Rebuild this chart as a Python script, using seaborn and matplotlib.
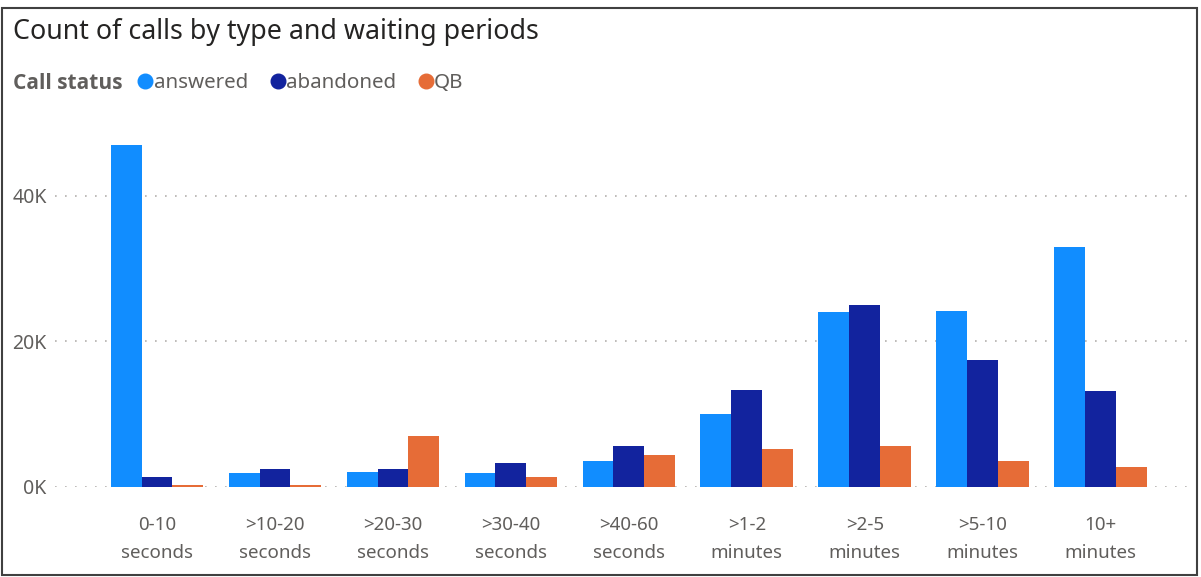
import pandas as pd
import matplotlib.pyplot as plt
import seaborn as sns
from matplotlib.lines import Line2D
from matplotlib.patches import Rectangle
from matplotlib.ticker import FuncFormatter

# 데이터 (단위: 건)
periods = ['0-10\nseconds', '>10-20\nseconds', '>20-30\nseconds', '>30-40\nseconds',
           '>40-60\nseconds', '>1-2\nminutes', '>2-5\nminutes', '>5-10\nminutes', '10+\nminutes']
statuses = ['answered', 'abandoned', 'QB']
answered = [47000, 1900, 2000, 1900, 3500, 10000, 24000, 24200, 32900]
abandoned = [1300, 2500, 2500, 3300, 5600, 13300, 25000, 17400, 13100]
qb = [300, 300, 6900, 1400, 4400, 5200, 5600, 3600, 2700]

colors = ['#118DFF', '#12239E', '#E66C37']

df = pd.DataFrame({'period': periods * 3,
                   'status': [s for s in statuses for _ in periods],
                   'count': answered + abandoned + qb})

sns.set_theme(style='white')
plt.rcParams['font.family'] = ['Noto Sans', 'DejaVu Sans']

fig = plt.figure(figsize=(12.01, 5.77), dpi=100)
ax = fig.add_axes([0.0458, 0.1565, 0.9492, 0.6305])

sns.barplot(data=df, x='period', y='count', hue='status', order=periods,
            hue_order=statuses, palette=colors, width=0.785, gap=0,
            edgecolor='none', linewidth=0, saturation=1, ax=ax, legend=False)

ax.set_xlim(-0.865, 8.8)
ax.set_ylim(0, 50000)
ax.set_yticks([0, 20000, 40000])
ax.yaxis.set_major_formatter(FuncFormatter(lambda v, p: f'{int(v / 1000)}K'))
ax.grid(True, axis='y', linestyle=(0, (1, 5)), color='#B3B0AD', linewidth=1.2)
ax.set_axisbelow(True)
for sp in ax.spines.values():
    sp.set_visible(False)
ax.set_xlabel('')
ax.set_ylabel('')
ax.tick_params(axis='x', colors='#605E5C', labelsize=13.5, length=0, pad=21)
ax.tick_params(axis='y', colors='#605E5C', labelsize=14, length=0, pad=6)
for lbl in ax.get_xticklabels():
    lbl.set_linespacing(1.75)

# 제목
fig.text(0.011, 0.945, 'Count of calls by type and waiting periods', fontsize=19.3,
         color='#252423', ha='left', va='center')

# 범례 (Call status)
fig.text(0.011, 0.856, 'Call status', fontsize=15, fontweight='bold',
         family=['Open Sans', 'DejaVu Sans'], color='#605E5C', ha='left', va='center')
handles = [Line2D([], [], marker='o', linestyle='', markersize=10.5, color=c) for c in colors]
fig.legend(handles, statuses, loc='center left', bbox_to_anchor=(0.104, 0.856),
           ncol=3, frameon=False, fontsize=14.8, handletextpad=-0.6,
           columnspacing=0.45, borderpad=0, borderaxespad=0, labelcolor='#605E5C')

# 테두리
fig.patches.append(Rectangle((0.002, 0.003), 0.995, 0.983, transform=fig.transFigure,
                             fill=False, edgecolor='#404040', linewidth=1.5))

plt.savefig('out.png', dpi=100)
